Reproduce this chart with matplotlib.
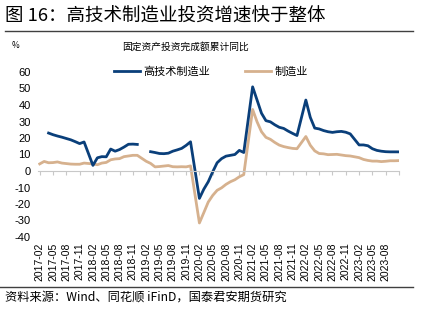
import pandas as pd
import matplotlib
matplotlib.use('Agg')
import matplotlib.pyplot as plt
from matplotlib.lines import Line2D

plt.rcParams['font.family'] = ['Noto Sans CJK SC', 'DejaVu Sans']
plt.rcParams['axes.unicode_minus'] = False

# monthly cumulative data (January is not published separately)
months = [f'{y}-{m:02d}' for y in range(2017, 2024) for m in range(2, 13)
          if not (y == 2023 and m == 12)]

hightech = [
    None, None, 23.0, 22.0, 21.2, 20.5, 19.7, 18.9, 17.8, 16.6, 17.6,   # 2017
    3.4, 8.0, 8.7, 8.6, 13.3, 12.0, 13.0, 14.5, 16.2, 16.3, 16.1,      # 2018
    None, 11.7, 11.2, 10.6, 10.5, 10.8, 12.0, 12.8, 13.7, 15.5, 17.7,  # 2019
    -16.6, -11.0, -6.5, -0.5, 5.0, 7.5, 9.0, 9.5, 10.0, 12.5, 11.2,    # 2020
    51.0, 43.0, 35.0, 30.5, 29.8, 28.0, 26.5, 25.8, 24.2, 22.8, 21.5,  # 2021
    43.0, 32.5, 26.0, 25.5, 24.5, 23.8, 23.4, 23.8, 24.0, 23.5, 22.5,  # 2022
    15.8, 15.8, 15.3, 13.5, 12.5, 12.0, 11.7, 11.6, 11.6, 11.6,        # 2023
]
manufacturing = [
    4.3, 5.8, 5.0, 5.1, 5.5, 4.8, 4.5, 4.2, 4.1, 4.1, 4.8,
    4.3, 3.8, 4.8, 5.2, 6.8, 7.3, 7.5, 8.7, 9.1, 9.5, 9.5,
    5.9, 4.6, 2.5, 2.7, 3.0, 3.3, 2.6, 2.5, 2.6, 2.5, 3.1,
    -31.5, -25.2, -18.8, -14.8, -11.7, -10.2, -8.1, -6.5, -5.3, -3.5, -2.2,
    37.3, 29.8, 23.8, 20.4, 19.2, 17.3, 15.7, 14.8, 14.2, 13.7, 13.5,
    20.9, 15.6, 12.2, 10.6, 10.4, 9.9, 10.0, 10.1, 9.7, 9.3, 9.1,
    8.1, 7.0, 6.4, 6.0, 6.0, 5.7, 5.9, 6.2, 6.2, 6.3,
]

BLUE = '#0A3F7A'
TAN = '#D6B18E'
GRID = '#C8C8C8'

periods = pd.PeriodIndex(months, freq='M')
start = pd.Period('2017-02', freq='M')
x = [p.ordinal - start.ordinal for p in periods]
ht = pd.Series(hightech, index=x, dtype=float)
mf = pd.Series(manufacturing, index=x, dtype=float)

# axis months: every 3 months from 2017-02
all_months = pd.period_range('2017-02', '2023-11', freq='M')
tick_pos = list(range(0, len(all_months), 3))
tick_labels = [str(all_months[i]) for i in tick_pos if i <= 78]

fig = plt.figure(figsize=(4.40, 3.19), dpi=100)
ax = fig.add_axes([37.5 / 440, 82 / 319, 361.5 / 440, 165 / 319])

ax.plot(mf.index, mf.values, color=TAN, lw=2.0, solid_joinstyle='round')
ax.plot(ht.index, ht.values, color=BLUE, lw=2.0, solid_joinstyle='round')

ax.set_xlim(-0.5, 81)
ax.set_ylim(-40, 60)
ax.set_yticks(range(-40, 61, 10))
ax.tick_params(axis='y', length=0, pad=5, labelsize=8)
for lab in ax.get_yticklabels():
    lab.set_fontfamily('Liberation Sans')

for s in ['top', 'right', 'left']:
    ax.spines[s].set_visible(False)
ax.spines['bottom'].set_position(('data', 0))
ax.spines['bottom'].set_color(GRID)
ax.spines['bottom'].set_linewidth(0.8)
ax.set_xticks(tick_pos)
ax.tick_params(axis='x', direction='out', length=3, color=GRID,
               width=0.8, labelbottom=False)

sec = ax.secondary_xaxis('bottom')
sec.set_xticks(tick_pos[:len(tick_labels)])
sec.set_xticklabels(tick_labels, rotation=90, fontsize=7.5,
                    fontfamily='Liberation Sans')
sec.tick_params(length=0, pad=4)
sec.spines['bottom'].set_visible(False)

handles = [Line2D([], [], color=BLUE, lw=2.0), Line2D([], [], color=TAN, lw=2.0)]
ax.legend(handles, ['高技术制造业', '制造业'], loc='center',
          bbox_to_anchor=(0.48, 1.0), ncol=2, frameon=False, fontsize=8,
          handlelength=2.3, handletextpad=0.3, columnspacing=3.2)

fig.text(5 / 440, 1 - 17 / 319, '图 16：高技术制造业投资增速快于整体',
         fontsize=13.3, va='center', ha='left')
fig.add_artist(Line2D([5 / 440, 413 / 440], [1 - 31 / 319] * 2,
                      color='#404040', lw=1.0))
fig.text(185 / 440, 1 - 47 / 319, '固定资产投资完成额累计同比',
         fontsize=7, va='center', ha='center')
fig.text(12 / 440, 1 - 46 / 319, '%', fontsize=6, va='center', ha='left')
fig.add_artist(Line2D([0, 413 / 440], [1 - 287 / 319] * 2,
                      color='#404040', lw=1.0))
fig.text(5 / 440, 1 - 297 / 319, '资料来源：Wind、同花顺 iFinD，国泰君安期货研究',
         fontsize=8.8, va='center', ha='left')

fig.savefig('out.png', dpi=100, facecolor='white')
